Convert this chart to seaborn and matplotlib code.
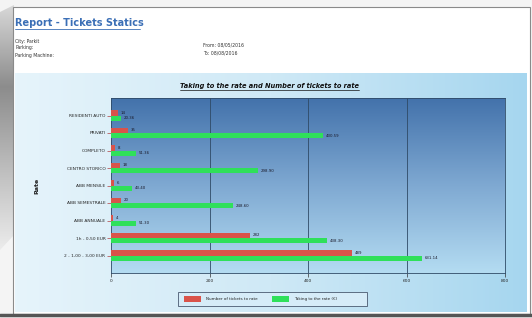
import numpy as np
import pandas as pd
import matplotlib
matplotlib.use("Agg")
import matplotlib.pyplot as plt
import seaborn as sns
from matplotlib.patches import Rectangle, Polygon
from matplotlib.colors import LinearSegmentedColormap

# ---- data ----
categories = ["RESIDENTI AUTO", "PRIVATI", "COMPLETO", "CENTRO STORICO",
              "ABB MENSILE", "ABB SEMESTRALE", "ABB ANNUALE",
              "1h - 0,50 EUR", "2 - 1,00 - 3,00 EUR"]
tickets = [14, 35, 8, 18, 6, 20, 4, 282, 489]
takings = [20.36, 430.59, 51.36, 298.90, 43.40, 248.60, 51.30, 438.30, 631.14]
series_names = ["Number of tickets to rate", "Taking to the rate (\u20ac)"]
xticks = [0, 200, 400, 600, 800]

df = pd.DataFrame({
    "Rate": categories * 2,
    "Value": tickets + takings,
    "Series": [series_names[0]] * len(categories) + [series_names[1]] * len(categories),
})

W, H = 532, 318
sns.set_theme(style="white")
plt.rcParams['font.family'] = ['DejaVu Sans']
fig = plt.figure(figsize=(W / 100, H / 100), dpi=100)
fig.patch.set_facecolor("#f4f4f4")

# background layer in pixel coordinates
bg = fig.add_axes([0, 0, 1, 1], zorder=0)
bg.set_xlim(0, W)
bg.set_ylim(H, 0)
bg.axis("off")
side_cmap = LinearSegmentedColormap.from_list("s", ["#d8d8d8", "#8c8c8c", "#bdbdbd", "#ececec"])
side = bg.imshow(np.linspace(0, 1, 256).reshape(-1, 1), extent=(0, 14, 250, 5),
                 cmap=side_cmap, aspect="auto", zorder=0.5)
poly = Polygon([(0, 12), (14, 5), (14, 235), (0, 250)], closed=True,
               facecolor="none", edgecolor="none")
bg.add_patch(poly)
side.set_clip_path(poly)
bg.add_patch(Rectangle((13, 7), 517, 307, facecolor="white", edgecolor="#8a8a8a", lw=0.8))
bg.plot([0, W], [315, 315], color="#555555", lw=2.5)
# chart panel gradient
grad = np.linspace(0, 1, 256).reshape(1, -1)
panel_cmap = LinearSegmentedColormap.from_list("p", ["#e6f4fb", "#cfe9f6", "#a6d6ef"])
bg.imshow(grad, extent=(15, 527, 312, 73), cmap=panel_cmap, aspect="auto", zorder=1)

# header texts
bg.text(15, 23, "Report - Tickets Statics", color="#3b6fb6", fontsize=7,
        fontweight="bold", va="center", ha="left", zorder=3)
bg.plot([15, 140], [29, 29], color="#3b6fb6", lw=0.6, zorder=3)
for y, t in [(41, "City: Parkit"), (48, "Parking:"), (55, "Parking Machine:")]:
    bg.text(15, y, t, fontsize=3.3, color="#333333", va="center", ha="left", zorder=3)
bg.text(203, 45, "From: 08/05/2016", fontsize=3.3, color="#333333", va="center", zorder=3)
bg.text(203, 53, "To: 08/08/2016", fontsize=3.3, color="#333333", va="center", zorder=3)
bg.text(270, 86, "Taking to the rate and Number of tickets to rate", fontsize=4.8,
        fontweight="bold", fontstyle="italic", ha="center", va="center", color="#111111", zorder=3)
bg.plot([180, 359], [89.5, 89.5], color="#111111", lw=0.5, zorder=3)
bg.text(37, 186, "Rate", rotation=90, fontsize=4.5, fontweight="bold",
        ha="center", va="center", color="#222222", zorder=3)

# main axes
ax = fig.add_axes([111 / W, (H - 273) / H, 394 / W, 175 / H], zorder=2)
sns.barplot(data=df, y="Rate", x="Value", hue="Series", orient="h",
            palette=["#d9534a", "#2fe05a"], width=0.58, ax=ax,
            saturation=1, legend=False, edgecolor="none")
vgrad = np.linspace(0, 1, 256).reshape(-1, 1)
ax_cmap = LinearSegmentedColormap.from_list("a", ["#4372ab", "#7fa9d2", "#b4dcf2"])
ax.imshow(vgrad, extent=(0, 800, len(categories), -1), cmap=ax_cmap,
          aspect="auto", zorder=0)
ax.set_xlim(0, 800)
ax.set_ylim(len(categories), -1)
for x in xticks[1:-1]:
    ax.axvline(x, color="#2f4a66", lw=0.6, zorder=1)
for c in ax.containers:
    for bar in c:
        bar.set_zorder(3)
# value labels
for cont, vals, fmt in zip(ax.containers, [tickets, takings], ["{:.0f}", "{:.2f}"]):
    ax.bar_label(cont, labels=[fmt.format(v) for v in vals], fontsize=2.8,
                 padding=2, color="#1a1a2a")

ax.set_xticks(xticks)
ax.set_xticklabels([str(v) for v in xticks])
ax.tick_params(axis="x", labelsize=3.2, length=3, width=0.5, color="#333333", pad=1, direction="out")
ax.tick_params(axis="y", labelsize=3.2, length=3, width=0.5, color="#b04040", pad=1, direction="out")
ax.xaxis.set_ticks_position("bottom")
ax.yaxis.set_ticks_position("left")
ax.set_xlabel("")
ax.set_ylabel("")
for s in ax.spines.values():
    s.set_color("#2f4a66")
    s.set_linewidth(0.6)

# legend
bg.add_patch(Rectangle((178, 292), 189, 14, facecolor="#d6ecf8", edgecolor="#4a5a70", lw=0.6, zorder=3))
bg.add_patch(Rectangle((184, 296), 17, 5.5, facecolor="#d9534a", edgecolor="none", zorder=4))
bg.text(206, 299, series_names[0], fontsize=3, va="center", ha="left", color="#222222", zorder=4)
bg.add_patch(Rectangle((272, 296), 17, 5.5, facecolor="#2fe05a", edgecolor="none", zorder=4))
bg.text(294, 299, series_names[1], fontsize=3, va="center", ha="left", color="#222222", zorder=4)

fig.savefig("out.png", dpi=100, facecolor=fig.get_facecolor())
